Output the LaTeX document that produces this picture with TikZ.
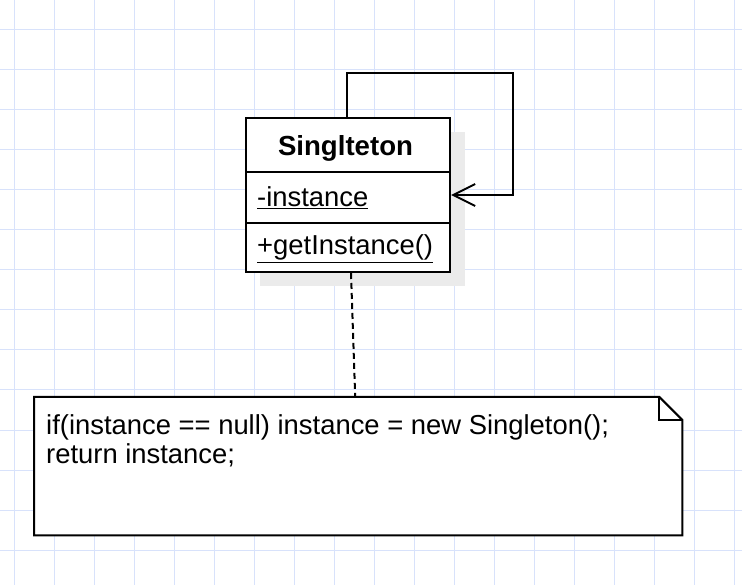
\documentclass[tikz,border=0pt]{standalone}
\usepackage{fontspec}
\setmainfont{Liberation Sans}
\usetikzlibrary{arrows.meta,calc}
\definecolor{gridblue}{HTML}{D8E2FB}
\definecolor{shadowgray}{HTML}{EBEBEB}
\begin{document}
\begin{tikzpicture}[x=1pt,y=-1pt,
  txt/.style={font=\fontsize{27.4}{29}\selectfont, inner sep=0pt},
  border/.style={draw=black, line width=2pt},
  gridline/.style={draw=gridblue, line width=1pt}]
\useasboundingbox (0,0) rectangle (742,585);
\fill[white] (0,0) rectangle (742,585);
\foreach \x in {14,54,...,734} \draw[gridline] (\x,0) -- (\x,585);
\foreach \y in {30,70,...,570} \draw[gridline] (0,\y) -- (742,\y);
% shadow
\fill[shadowgray] (260,132) rectangle (465,286);
% class box
\node[border, fill=white, minimum width=204pt, minimum height=154pt, inner sep=0pt, anchor=north west] (cls) at (245,117) {};
\draw[border] ($(cls.north west)+(0,55)$) -- ($(cls.north east)+(0,55)$);
\draw[border] ($(cls.north west)+(0,106)$) -- ($(cls.north east)+(0,106)$);
\node[txt, font=\fontsize{27.6}{29}\selectfont\bfseries, anchor=base] (title) at (345.5,156) {Singlteton};
\node[txt, anchor=base west] (attr) at (257,207) {\underline{-instance}};
\node[txt, anchor=base west] (op) at (257,255) {\underline{+getInstance()}};
% self association
\coordinate (lp) at (513,73);
\draw[line width=2pt, -{Straight Barb[length=22pt,width=22pt,line width=2pt]}] ([xshift=-1pt]cls.north) |- (lp) |- (cls.east);
% note
\node[minimum width=648pt, minimum height=138pt, inner sep=0pt, anchor=north west] (note) at (34,397) {};
\draw[border, fill=white, line join=miter] (note.north west) -- ([xshift=-23pt]note.north east) -- ([yshift=-23pt]note.north east) -- (note.south east) -- (note.south west) -- cycle;
\draw[border] ([xshift=-23pt]note.north east) -- ([xshift=-23pt,yshift=-23pt]note.north east) -- ([yshift=-23pt]note.north east);
\node[txt, anchor=base west] (code1) at (46,434) {if(instance == null) instance = new Singleton();};
\node[txt, anchor=base west] (code2) at (46,463) {return instance;};
% note link
\draw[line width=2pt, dash pattern=on 6pt off 4pt] ([xshift=3pt]cls.south) -- ([xshift=-3pt]note.north);
\end{tikzpicture}
\end{document}
